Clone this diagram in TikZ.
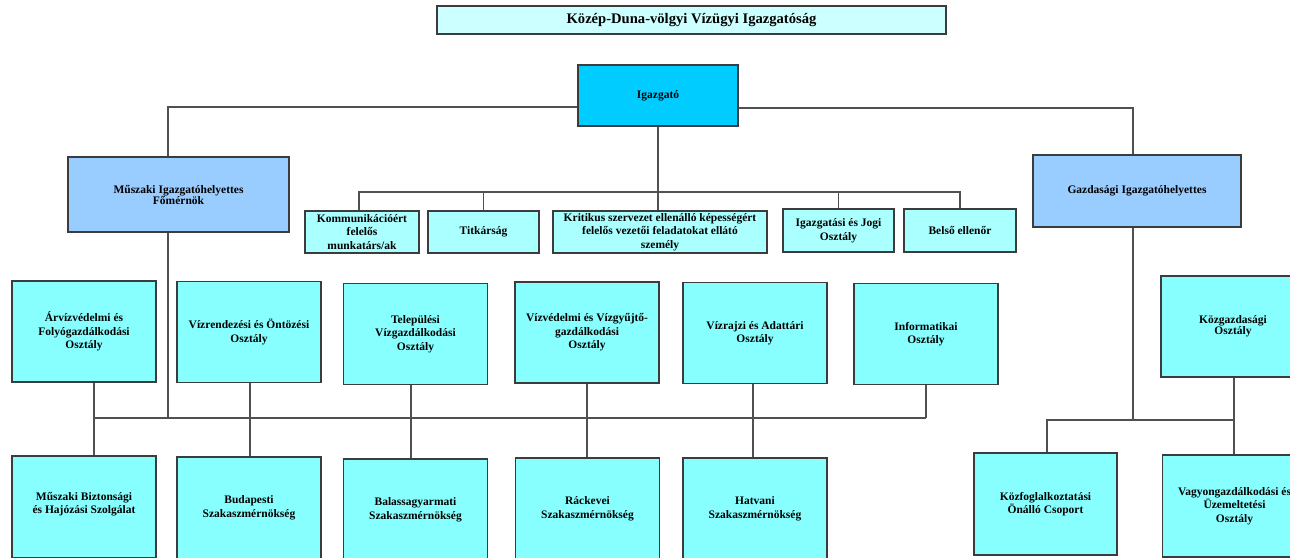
\documentclass[tikz,border=0pt]{standalone}
\usepackage{fontspec}
\setmainfont{Liberation Serif}
\begin{document}
\begin{tikzpicture}[x={(1pt,0)},y={(0,-1pt)},
  box/.style={draw=boxline,line width=1.3pt,inner sep=0pt,align=center,
    font=\bfseries\fontsize{11.5}{13.5}\selectfont},
  dept/.style={box,fill=deptfill,minimum width=144pt,minimum height=101pt},
  staff/.style={box,fill=stafffill,minimum height=42pt},
  deputy/.style={box,fill=deputyfill,font=\bfseries\fontsize{11.5}{11}\selectfont},
  conn/.style={draw=connline,line width=1.3pt},
  tight/.style={font=\bfseries\fontsize{11.5}{11}\selectfont}]
\definecolor{boxline}{HTML}{3C3C3C}
\definecolor{connline}{HTML}{505050}
\definecolor{deptfill}{HTML}{88FFFF}
\definecolor{stafffill}{HTML}{AAFFFF}
\definecolor{titlefill}{HTML}{CCFFFF}
\definecolor{topfill}{HTML}{00CCFF}
\definecolor{deputyfill}{HTML}{99CCFF}
\useasboundingbox (0,0) rectangle (1290,557);
\clip (0,0) rectangle (1290,557);
\fill[white] (0,0) rectangle (1290,557);

% title and director
\node[box,fill=titlefill,minimum width=509pt,minimum height=28pt,
  font=\bfseries\fontsize{14.6}{16}\selectfont] (title) at (691.5,20) {Közép-Duna-völgyi Vízügyi Igazgatóság};
\node[box,fill=topfill,minimum width=160pt,minimum height=61pt] (igazgato) at (658,95.5) {Igazgató};

% deputies
\node[deputy,minimum width=221pt,minimum height=75pt] (muszaki) at (178.5,194.5) {Műszaki Igazgatóhelyettes\\Főmérnök};
\node[deputy,minimum width=208pt,minimum height=72pt] (gazdasagi) at (1137,191) {Gazdasági Igazgatóhelyettes};

% staff
\node[staff,minimum width=114pt] (komm) at (362,232) {Kommunikációért\\felelős\\munkatárs/ak};
\node[staff,minimum width=111pt] (titk) at (483.5,232) {Titkárság};
\node[staff,minimum width=214pt] (krit) at (660,232) {Kritikus szervezet ellenálló képességért\\felelős vezetői feladatokat ellátó\\személy};
\node[staff,minimum width=111pt,minimum height=43pt] (jogi) at (838.5,230.5) {Igazgatási és Jogi\\Osztály};
\node[staff,minimum width=112pt,minimum height=43pt] (belso) at (960,230.5) {Belső ellenőr};

% departments, row 1
\node[dept] (arviz) at (84,331.5) {Árvízvédelmi és\\Folyógazdálkodási\\Osztály};
\node[dept] (vizrend) at (249,332) {Vízrendezési és Öntözési\\Osztály};
\node[dept] (telep) at (415.5,334) {Települési\\Vízgazdálkodási\\Osztály};
\node[dept] (vizved) at (587,332.5) {Vízvédelmi és Vízgyűjtő-\\gazdálkodási\\Osztály};
\node[dept] (vizrajz) at (755,333) {Vízrajzi és Adattári\\Osztály};
\node[dept] (inform) at (926,334) {Informatikai\\Osztály};
\node[dept,tight] (kozgazd) at (1233,326.5) {Közgazdasági\\Osztály};

% departments, row 2
\node[dept,minimum height=102pt] (muszbizt) at (84,507) {Műszaki Biztonsági\\és Hajózási Szolgálat\\[-9pt]\strut};
\node[dept,minimum height=102pt] (budapest) at (249,508) {Budapesti\\Szakaszmérnökség};
\node[dept,minimum height=102pt] (balassa) at (415.5,510) {Balassagyarmati\\Szakaszmérnökség};
\node[dept,minimum height=102pt] (rackeve) at (587.5,509) {Ráckevei\\Szakaszmérnökség};
\node[dept,minimum height=102pt] (hatvani) at (755,509) {Hatvani\\Szakaszmérnökség};
\node[dept,tight,minimum width=143pt,minimum height=102pt] (kozfog) at (1045.5,504) {Közfoglalkoztatási\\Önálló Csoport};
\node[dept,minimum height=102pt] (vagyon) at (1234.5,506) {Vagyongazdálkodási és\\Üzemeltetési\\Osztály};

% bus coordinates
\coordinate (lbus) at (0,418);
\coordinate (rbus) at (0,420);
\coordinate (sbus) at (0,192);

% connectors: director to deputies
\draw[conn] ([yshift=-11.5pt]igazgato.west) -| ([xshift=-10.5pt]muszaki.north);
\draw[conn] ([yshift=-12.5pt]igazgato.east) -| ([xshift=-4pt]gazdasagi.north);

% director to staff
\draw[conn] (igazgato.south) -- (igazgato.south |- krit.north);
\draw[conn] ([xshift=-3pt]komm.north) |- (belso.north |- sbus) -- (belso.north);
\draw[conn] (titk.north |- sbus) -- (titk.north);
\draw[conn] (jogi.north |- sbus) -- (jogi.north);

% technical deputy to departments
\draw[conn] ([xshift=-10.5pt]muszaki.south) -- ([xshift=-10.5pt]muszaki.south |- lbus);
\draw[conn] ([xshift=10pt]arviz.south |- lbus) -- (inform.south |- lbus);
\draw[conn] ([xshift=10pt]arviz.south) -- ([xshift=10pt]arviz.south |- muszbizt.north);
\draw[conn] ([xshift=1pt]vizrend.south) -- ([xshift=1pt]vizrend.south |- budapest.north);
\draw[conn] ([xshift=-4.5pt]telep.south) -- ([xshift=-4.5pt]telep.south |- balassa.north);
\draw[conn] (vizved.south) -- (vizved.south |- rackeve.north);
\draw[conn] ([xshift=-2pt]vizrajz.south) -- ([xshift=-2pt]vizrajz.south |- hatvani.north);
\draw[conn] (inform.south) -- (inform.south |- lbus);

% economic deputy to departments
\draw[conn] ([xshift=-4pt]gazdasagi.south) -- ([xshift=-4pt]gazdasagi.south |- rbus);
\draw[conn] ([xshift=1.5pt]kozfog.north) |- ([xshift=1pt]kozgazd.south |- rbus);
\draw[conn] ([xshift=1pt]kozgazd.south) -- ([xshift=1pt]kozgazd.south |- vagyon.north);
\end{tikzpicture}
\end{document}
